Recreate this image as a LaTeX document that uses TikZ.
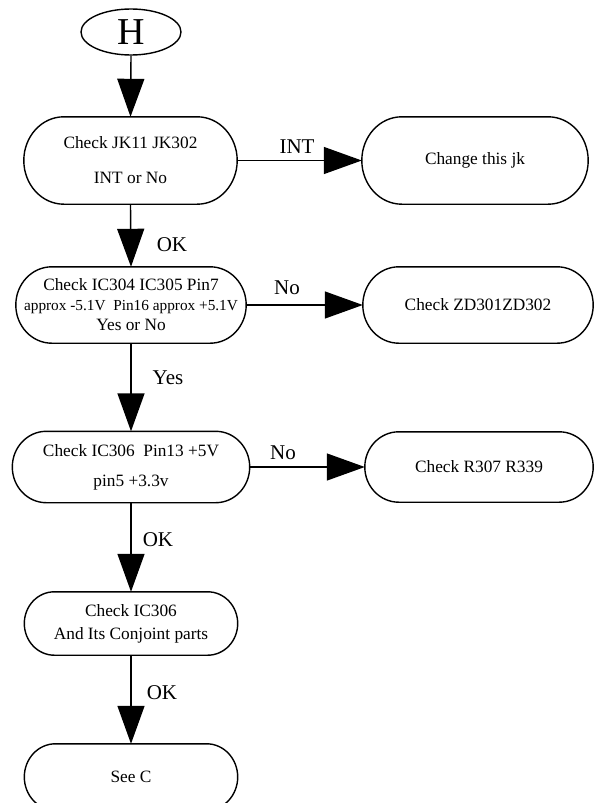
\documentclass[tikz,border=0pt]{standalone}
\usepackage{fontspec}
\setmainfont{Liberation Serif}
\usetikzlibrary{arrows.meta,shapes.geometric,calc}
\newcommand\drawstadium[2]{%
  \draw[outl] let \p1=(#1.north west), \p2=(#1.south east), \n1={0.5*(\y1-\y2)} in
    ({\x1+#2*1pt},\y1) -- ({\x2-#2*1pt},\y1)
    arc[start angle=90, end angle=-90, x radius=#2pt, y radius=\n1]
    -- ({\x1+#2*1pt},\y2)
    arc[start angle=270, end angle=90, x radius=#2pt, y radius=\n1] -- cycle;}
\begin{document}
\begin{tikzpicture}[x=1pt,y=1pt,
  box/.style={draw=none, shape=rectangle, inner sep=0pt, align=center, font=\fontsize{17.3}{20}\selectfont},
  outl/.style={line width=1.4pt},
  conn/.style={line width=1.4pt, -{Triangle[length=38pt,width=27pt]}},
  lbl/.style={inner sep=0pt, font=\fontsize{21}{24}\selectfont}]
\fill[white] (0,0) rectangle (595,-803);
\useasboundingbox (0,0) rectangle (595,-803);

\node[ellipse, draw, line width=1.4pt, minimum width=100pt, minimum height=46pt, inner sep=0pt, font=\fontsize{38}{40}\selectfont] (h) at (131,-32) {H};

\node[box, minimum width=213pt, minimum height=87pt] (n1) at (130.5,-160.5) {Check JK11 JK302\\[15pt]INT or No};
\node[box, minimum width=226pt, minimum height=87pt] (jk) at (475,-160.5) {Change this jk};
\node[box, minimum width=230pt, minimum height=76pt] (n2) at (131,-305) {Check IC304 IC305 Pin7\\{\fontsize{15.3}{18}\selectfont approx -5.1V\ \ Pin16 approx +5.1V}\\Yes or No};
\node[box, minimum width=230pt, minimum height=76pt] (zd) at (478,-305) {Check ZD301ZD302};
\node[box, minimum width=237pt, minimum height=71pt] (n3) at (131,-467) {Check IC306\ \ Pin13 +5V\\[10pt]pin5 +3.3v};
\node[box, minimum width=228pt, minimum height=70pt] (r) at (479,-467) {Check R307 R339};
\node[box, minimum width=213pt, minimum height=63pt] (n4) at (131,-623.5) {Check IC306\\[3pt]And Its Conjoint parts};
\node[box, minimum width=213pt, minimum height=66pt] (sc) at (131,-777) {See C};

\drawstadium{n1}{40}
\drawstadium{jk}{40}
\drawstadium{n2}{36}
\drawstadium{zd}{36}
\drawstadium{n3}{34}
\drawstadium{r}{34}
\drawstadium{n4}{30}
\drawstadium{sc}{31}

\draw[conn] (h.south) -- (n1.north);
\draw[conn] (n1.east) -- (jk.west);
\draw[conn] (n1.south) -- (n2.north);
\draw[conn] (n2.east) -- (zd.west);
\draw[conn] (n2.south) -- (n3.north);
\draw[conn] (n3.east) -- (r.west);
\draw[conn] (n3.south) -- (n4.north);
\draw[conn] (n4.south) -- (sc.north);

\node[lbl] (lint) at (297,-147) {INT};
\node[lbl] (lok1) at (172,-245) {OK};
\node[lbl] (lno1) at (287,-288) {No};
\node[lbl] (lyes) at (168,-378) {Yes};
\node[lbl] (lno2) at (283,-453) {No};
\node[lbl] (lok2) at (158,-540) {OK};
\node[lbl] (lok3) at (162,-693) {OK};
\end{tikzpicture}
\end{document}
